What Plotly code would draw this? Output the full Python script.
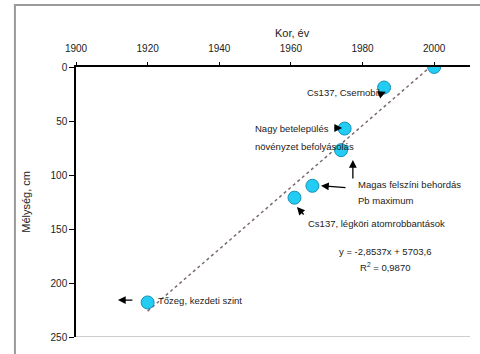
import numpy as np
import plotly.graph_objects as go

# Data
years = [2000, 1986, 1975, 1974, 1966, 1961, 1920]
depths = [0, 19, 57, 77, 110, 121, 218]

x_ticks = [1900, 1920, 1940, 1960, 1980, 2000]
y_ticks = [0, 50, 100, 150, 200, 250]

x_title = "Kor, év"
y_title = "Mélység, cm"
eq_text = "y = -2,8537x + 5703,6"
r2_text = "R<sup>2</sup> = 0,9870"

FONT = "Liberation Sans"

# linear trend (as Excel's trendline)
coef = np.polyfit(years, depths, 1)
tx = np.array([min(years), max(years)])
ty = np.polyval(coef, tx)

fig = go.Figure()
fig.add_trace(go.Scatter(x=tx, y=ty, mode="lines",
                         line=dict(color="#7a6a70", width=1.5, dash="dot"),
                         hoverinfo="skip", showlegend=False))
fig.add_trace(go.Scatter(x=years, y=depths, mode="markers",
                         marker=dict(size=13, color="#22CCF2",
                                     line=dict(color="#1990B8", width=1)),
                         showlegend=False))

tf = dict(family=FONT, size=9.5, color="#222222")

def text(x, y, s, xanchor="left"):
    fig.add_annotation(x=x, y=y, text=s, showarrow=False, xanchor=xanchor,
                       yanchor="middle", font=tf)

def arrow(x, y, ax, ay):
    fig.add_annotation(x=x, y=y, ax=ax, ay=ay, text="", showarrow=True,
                       arrowhead=2, arrowsize=1.2, arrowwidth=1.3,
                       arrowcolor="black")

text(1985.4, 24, "Cs137, Csernobil", "right")
arrow(1986.5, 23, -7, 3)

text(1949.4, 57, "Nagy betelepülés")
text(1949.4, 74, "növényzet befolyásolás")
arrow(1974.3, 56.5, -9, 0)

arrow(1977.3, 86, 0, 20)

text(1978.2, 109, "Magas felszíni behordás")
text(1978.2, 124, "Pb maximum")
arrow(1968.4, 110, 26, 2)

text(1964.2, 144.5, "Cs137, légköri atomrobbantások")
arrow(1961.7, 129.6, 8, 9)

text(1986.3, 170.4, eq_text, "center")
text(1986.3, 185.2, r2_text, "center")

arrow(1911.7, 215.8, 16, 0)
text(1922.3, 215.8, "Tőzeg, kezdeti szint")

# axis titles
fig.add_annotation(x=0.55, y=1.0, xref="paper", yref="paper", yshift=34,
                   yanchor="middle", text=x_title, showarrow=False,
                   font=dict(family=FONT, size=11, color="#222222"))
fig.add_annotation(x=-0.125, y=0.5, xref="paper", yref="paper", textangle=-90,
                   xanchor="center", xshift=-1, text=y_title, showarrow=False,
                   font=dict(family=FONT, size=11, color="#222222"))

# outer chart border and bottom line of plot area
fig.add_shape(type="rect", xref="paper", yref="paper",
              x0=-0.155, x1=1.05, y0=-0.09, y1=1.23,
              line=dict(color="#9a9a9a", width=2), layer="below")
fig.add_shape(type="line", xref="paper", yref="y", x0=0, x1=1.0,
              y0=250, y1=250, line=dict(color="#9a9a9a", width=1))

fig.update_xaxes(range=[1900, 2010], side="top", tickvals=x_ticks,
                 showline=True, linecolor="black", linewidth=1.5,
                 ticks="outside", ticklen=3, tickcolor="black",
                 ticklabelstandoff=6,
                 showgrid=False, zeroline=False,
                 tickfont=dict(family=FONT, size=10, color="#222222"))
fig.update_yaxes(range=[250, 0], tickvals=y_ticks,
                 showline=True, linecolor="black", linewidth=1.5,
                 ticks="outside", ticklen=5, tickcolor="black",
                 showgrid=False, zeroline=False,
                 tickfont=dict(family=FONT, size=10, color="#222222"))

fig.update_layout(width=480, height=354,
                  margin=dict(l=76, r=10, t=67, b=17),
                  paper_bgcolor="white", plot_bgcolor="white",
                  showlegend=False)

fig.write_html("out.html")
